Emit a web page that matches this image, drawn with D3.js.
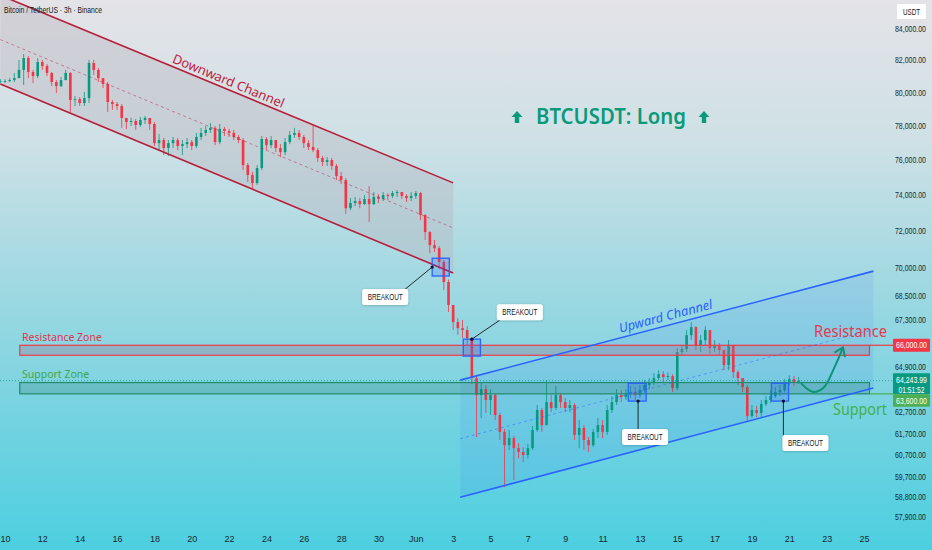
<!DOCTYPE html>
<html><head><meta charset="utf-8">
<script src="https://cdn.jsdelivr.net/npm/d3@7"></script>
<style>
html,body{margin:0;padding:0;background:#fff;}
svg{display:block;}
</style></head>
<body>
<svg id="chart" width="932" height="550"></svg>
<script>
// ---------- DATA ----------
const firstOpen = 80700;
const closes = [80730,80730,80790,80910,81420,82160,81290,81040,81910,81660,81230,80670,80420,80790,81230,79570,79620,79390,79690,81850,
81420,80910,80550,79450,79330,79210,78490,78250,78310,78070,78370,78490,78130,77000,77180,76710,77000,77180,76830,76940,
77060,76830,77360,77600,77780,77900,77060,77840,77720,77600,77360,77180,75720,75150,74690,75550,77240,76880,77180,76710,
76470,77060,77480,77600,77360,77000,76770,76590,76130,75900,76010,75670,75090,74860,73270,73560,73670,73500,73790,73500,
73900,73790,74010,73960,74120,74180,73960,73840,73960,74120,72890,71950,71240,71070,70330,69260,68060,67180,66870,66770,
66360,64370,63540,63830,63300,63540,62580,61780,61160,61490,61020,60840,60700,61020,61870,62820,62100,63200,62920,63540,
63200,62920,63060,61640,61970,61400,61160,61780,62100,61780,62820,63200,63540,63440,63590,63680,63540,63780,64030,64170,
64370,64560,64420,64470,63880,65660,65810,66510,66920,66010,66260,66770,65860,66010,65760,65010,66010,64660,64370,63930,
62530,62820,62680,63110,63300,63490,63680,63780,64120,64320,64170,64243.99];
const highs = [80850,80850,80910,81230,82040,82410,82290,81420,82160,82040,81790,81290,80790,80980,81420,81290,79820,79750,80060,82040,
82040,81540,80910,80670,79570,79450,79330,78490,78490,78430,78550,78610,78490,78250,77540,77300,77180,77360,77300,77180,
77300,77180,77600,77900,78010,78190,78010,78130,77960,77840,77780,77480,77300,75840,75330,75720,77420,77360,77420,77180,
76940,77300,77720,77900,77780,77480,77180,78070,76710,76240,76180,76130,75780,75330,74970,73840,73900,73840,74010,74520,
74180,74060,74180,74120,74240,74290,74180,74060,74180,74240,74180,72940,72000,71520,71180,70430,69400,68060,67380,67280,
66970,66410,64470,64120,64030,63830,63640,62680,61920,61870,61590,61260,61070,61210,62060,63060,62920,64270,63540,63980,
63640,63400,63300,63160,62340,62100,61540,61920,62440,62340,63060,63490,63830,63780,63830,63980,63930,64030,64270,64370,
64610,64760,64710,64660,64560,65860,66010,66770,67180,66970,66510,66970,66770,66260,66110,65760,66260,66010,64760,64370,
64030,63060,63010,63300,63490,63780,63930,64030,64320,64510,64470,64420];
const lows = [80610,80610,80670,80670,80910,80490,80910,80610,80910,81420,81040,80420,80000,80360,80790,78850,79210,79210,79210,79390,
81100,80670,80300,78850,78970,78970,77900,77840,78010,77780,77960,78130,77780,76830,76590,76300,76240,76710,76590,76300,
76710,76590,76710,77180,77420,77600,76880,76940,77420,77360,77180,77000,75440,74750,74400,74580,75440,76590,76710,76470,
76180,76300,76940,77300,77180,76710,76590,76470,75900,75670,75670,75440,74860,74630,72940,73160,73390,73270,73450,72500,
73450,73560,73670,73730,73840,73900,73790,73620,73670,73790,72610,71520,70800,70860,69950,68840,67700,66770,66520,66360,
66010,64080,61540,62440,62680,62580,62340,61400,59230,60930,59550,60550,60370,60550,60930,61780,61780,62100,62720,62820,
62920,62720,62720,61400,61020,60930,60840,61070,61490,61490,61640,62680,63060,63200,63300,63400,63300,63400,63680,63830,
64030,64270,64170,64270,63690,63780,65510,65660,66260,65760,65660,66010,65560,65660,65510,64760,64760,64370,64030,63690,
62240,62440,62480,62480,63010,63160,63400,63490,63680,64030,63980,64080];
const candleStart = Date.UTC(2024, 4, 9, 18);   // first candle time
const candleStepHours = 6;
const lastPrice = 64243.99;
const countdown = "01:51:52";

const priceTicks = [84000,82000,80000,78000,76000,74000,72000,70000,68500,67300,64900,62700,61700,60700,59700,58800,57900];
const dateTicks = [10,12,14,16,18,20,22,24,26,28,30].map(d => Date.UTC(2024,4,d))
  .concat([1,3,5,7,9,11,13,15,17,19,21,23,25].map(d => Date.UTC(2024,5,d)));

const resistanceZone = {from: Date.UTC(2024,4,10,19), to: Date.UTC(2024,5,25,7), top: 66000, bottom: 65500};
const supportZone = {from: Date.UTC(2024,4,10,19), to: Date.UTC(2024,5,25,7), top: 64150, bottom: 63600};

const downChannel = {t0: Date.UTC(2024,4,9,18), t1: Date.UTC(2024,5,3,0), upper: [86190, 74700], lower: [80550, 69740]};
const upChannel = {t0: Date.UTC(2024,5,3,9), t1: Date.UTC(2024,5,25,12), upper: [64270, 69840], lower: [58780, 63880]};

const breakouts = [
  {t0: Date.UTC(2024,5,1,21), t1: Date.UTC(2024,5,2,19), hi: 70530, lo: 69580, dot: [0, 0.5], label: [-47, 30]},
  {t0: Date.UTC(2024,5,3,13), t1: Date.UTC(2024,5,4,11), hi: 66310, lo: 65460, dot: [0.5, 0], label: [48, -27]},
  {t0: Date.UTC(2024,5,12,9), t1: Date.UTC(2024,5,13,8), hi: 64120, lo: 63250, dot: [0.55, 1], label: [7, 36]},
  {t0: Date.UTC(2024,5,20,1), t1: Date.UTC(2024,5,20,23), hi: 64120, lo: 63250, dot: [0.7, 1], label: [22, 42]}
];
const arrowPath = [
  [Date.UTC(2024,5,21,15), 64120], [Date.UTC(2024,5,22,6), 63700], [Date.UTC(2024,5,22,20), 63900],
  [Date.UTC(2024,5,23,10), 64900], [Date.UTC(2024,5,23,21), 65900]
];

// ---------- SETUP ----------
const svg = d3.select("#chart");
const W = 932, H = 550;
const plotRight = 893;
const x = d3.scaleUtc().domain([Date.UTC(2024,4,10), Date.UTC(2024,5,25)]).range([5, 864]);
const y = d3.scaleLog().domain([57900, 84000]).range([517, 29]);
const narrow = '"Liberation Sans",Arial,sans-serif';
const sans = '"Noto Sans","Open Sans",sans-serif';

// condense a text element horizontally to a target width using a transform (anchor preserved)
function condense(sel, width){
  sel.each(function(){
    const el = d3.select(this);
    const w = this.getComputedTextLength();
    if (w <= width) return;
    const s = width / w;
    const tx = +el.attr("x") || 0, ty = +el.attr("y") || 0;
    const prev = el.attr("transform") || "";
    el.attr("x", 0).attr("y", 0).attr("transform", `${prev} translate(${tx},${ty}) scale(${s},1)`);
  });
}

const defs = svg.append("defs");
const g1 = defs.append("linearGradient").attr("id","bg").attr("x1",0).attr("y1",0).attr("x2",0).attr("y2",1);
[[0,"#e4e3e7"],[0.25,"#cfe1e6"],[0.5,"#a3d9e2"],[0.75,"#76d3e0"],[1,"#4ccfe0"]].forEach(s =>
  g1.append("stop").attr("offset", s[0]).attr("stop-color", s[1]));
const sh = defs.append("filter").attr("id","shadow").attr("x","-20%").attr("y","-30%").attr("width","140%").attr("height","160%");
sh.append("feDropShadow").attr("dx",0).attr("dy",0.5).attr("stdDeviation",0.8).attr("flood-color","#000").attr("flood-opacity",0.25);

svg.append("rect").attr("width",W).attr("height",H).attr("fill","url(#bg)");

// ---------- CHANNEL FILLS ----------
function poly(ch){
  return [[x(ch.t0), y(ch.upper[0])],[x(ch.t1), y(ch.upper[1])],[x(ch.t1), y(ch.lower[1])],[x(ch.t0), y(ch.lower[0])]];
}
svg.append("polygon").attr("points", poly(downChannel).join(" ")).attr("fill","rgba(185,180,188,0.38)");
svg.append("polygon").attr("points", poly(upChannel).join(" ")).attr("fill","rgba(41,98,255,0.09)");

// ---------- CANDLES ----------
const candles = closes.map((c,i) => {
  const o = i === 0 ? firstOpen : closes[i-1];
  return {t: candleStart + i*candleStepHours*3600e3, o, c, h: Math.max(highs[i], o, c), l: Math.min(lows[i], o, c)};
});
const bw = 2.6;
const cg = svg.append("g");
cg.selectAll("line").data(candles).join("line")
  .attr("x1", d => x(d.t)).attr("x2", d => x(d.t))
  .attr("y1", d => y(d.h)).attr("y2", d => y(d.l))
  .attr("stroke", d => d.c >= d.o ? "#089981" : "#f23645").attr("stroke-width", 0.8);
cg.selectAll("rect").data(candles).join("rect")
  .attr("x", d => x(d.t) - bw/2).attr("width", bw)
  .attr("y", d => y(Math.max(d.o,d.c)))
  .attr("height", d => Math.max(0.8, Math.abs(y(d.o) - y(d.c))))
  .attr("fill", d => d.c >= d.o ? "#089981" : "#f23645");

// ---------- CURRENT PRICE LINE ----------
svg.append("line").attr("x1",0).attr("x2",plotRight).attr("y1",y(lastPrice)).attr("y2",y(lastPrice))
  .attr("stroke","#089981").attr("stroke-dasharray","1,2").attr("stroke-width",1).attr("opacity",0.7);

// ---------- ZONES ----------
function zone(z, fill, stroke){
  svg.append("rect").attr("x", x(z.from)).attr("y", y(z.top)).attr("width", x(z.to)-x(z.from))
    .attr("height", y(z.bottom)-y(z.top)).attr("fill", fill).attr("stroke", stroke).attr("stroke-width",1.2);
}
zone(resistanceZone, "rgba(150,120,150,0.35)", "#f23645");
zone(supportZone, "rgba(30,110,95,0.22)", "#238a6c");
svg.append("line").attr("x1", x(resistanceZone.to)).attr("x2", plotRight).attr("y1", y(66000)).attr("y2", y(66000))
  .attr("stroke","#f23645").attr("stroke-width",1.2);
svg.append("line").attr("x1", x(supportZone.to)).attr("x2", plotRight).attr("y1", y(63600)).attr("y2", y(63600))
  .attr("stroke","#4caf50").attr("stroke-width",1.2);

// ---------- CHANNEL LINES ----------
function chLines(ch, color){
  const mid = [Math.sqrt(ch.upper[0]*ch.lower[0]), Math.sqrt(ch.upper[1]*ch.lower[1])];
  [[ch.upper,null],[ch.lower,null],[mid,"3,3"]].forEach(([p,dash]) => {
    svg.append("line").attr("x1", x(ch.t0)).attr("x2", x(ch.t1)).attr("y1", y(p[0])).attr("y2", y(p[1]))
      .attr("stroke", color).attr("stroke-width", dash ? 0.8 : 1.6)
      .attr("stroke-dasharray", dash).attr("opacity", dash ? 0.6 : 1);
  });
}
chLines(downChannel, "#b71d3b");
chLines(upChannel, "#2962ff");

// ---------- BREAKOUTS ----------
breakouts.forEach(b => {
  const x0 = x(b.t0), x1 = x(b.t1), y0 = y(b.hi), y1 = y(b.lo);
  svg.append("rect").attr("x",x0).attr("y",y0).attr("width",x1-x0).attr("height",y1-y0)
    .attr("fill","rgba(41,98,255,0.22)").attr("stroke","#2962ff").attr("stroke-width",1.3);
  const dx = x0 + (x1-x0)*b.dot[0], dy = y0 + (y1-y0)*b.dot[1];
  const lx = dx + b.label[0], ly = dy + b.label[1];
  const lw = 46, lh = 16;
  const ex = Math.max(lx - lw/2, Math.min(dx, lx + lw/2));
  const ey = dy < ly ? ly - lh/2 : ly + lh/2;
  const ex2 = b.label[0] < -20 ? lx + lw/2 - 3 : (b.label[0] > 30 ? lx - lw/2 + 3 : ex);
  svg.append("line").attr("x1",dx).attr("y1",dy).attr("x2",ex2).attr("y2",ey)
    .attr("stroke","#1f2a30").attr("stroke-width",1);
  svg.append("circle").attr("cx",dx).attr("cy",dy).attr("r",1.6).attr("fill","#111");
  svg.append("rect").attr("x",lx-lw/2).attr("y",ly-lh/2).attr("width",lw).attr("height",lh).attr("rx",2.5)
    .attr("fill","#fff").attr("filter","url(#shadow)");
  svg.append("text").attr("x",lx).attr("y",ly+3).attr("text-anchor","middle")
    .attr("font-family",narrow).attr("font-size",8.5).attr("fill","#131722").text("BREAKOUT")
    .call(condense, 35);
});

// ---------- ARROW ----------
const ap = arrowPath.map(p => [x(p[0]), y(p[1])]);
svg.append("path").attr("d", d3.line().curve(d3.curveCatmullRom)(ap))
  .attr("fill","none").attr("stroke","#0b9477").attr("stroke-width",2);
{
  const [tx,ty] = ap[ap.length-1], [px,py] = ap[ap.length-2];
  const ang = Math.atan2(ty-py, tx-px), L = 10, a = 0.6;
  const w1 = [tx - L*Math.cos(ang - a), ty - L*Math.sin(ang - a)];
  const w2 = [tx - L*Math.cos(ang + a), ty - L*Math.sin(ang + a)];
  svg.append("path").attr("d", `M${w1}L${tx},${ty}L${w2}`).attr("fill","none")
    .attr("stroke","#0b9477").attr("stroke-width",2).attr("stroke-linejoin","round");
}

// ---------- TEXT ANNOTATIONS ----------
svg.append("text").attr("x",4).attr("y",13).attr("font-family",narrow).attr("font-size",9).attr("fill","#131722")
  .text("Bitcoin / TetherUS · 3h · Binance").call(condense, 98);

function slopedText(txt, ch, frac, offset, color, size, italic){
  const xa = x(ch.t0) + (x(ch.t1)-x(ch.t0))*frac;
  const ang = Math.atan2(y(ch.upper[1]) - y(ch.upper[0]), x(ch.t1) - x(ch.t0)) * 180/Math.PI;
  const ya = y(ch.upper[0]) + (y(ch.upper[1]) - y(ch.upper[0]))*frac + offset;
  svg.append("text").attr("transform", `translate(${xa},${ya}) rotate(${ang})`).attr("text-anchor","middle")
    .attr("font-family",sans).attr("font-size",size).attr("font-style", italic ? "italic" : null)
    .attr("fill",color).text(txt);
}
slopedText("Downward Channel", downChannel, 0.5, -4, "#c0213d", 13, false);
slopedText("Upward Channel", upChannel, 0.5, -5, "#2962ff", 13, true);

svg.append("text").attr("x",22).attr("y",y(resistanceZone.top)-4).attr("font-family",sans).attr("font-size",10.5)
  .attr("fill","#e0334d").text("Resistance Zone");
svg.append("text").attr("x",22).attr("y",y(supportZone.top)-5).attr("font-family",sans).attr("font-size",10.5)
  .attr("fill","#3fa84a").text("Support Zone");
svg.append("text").attr("x",887).attr("y",y(66000)-8).attr("text-anchor","end").attr("font-family",sans).attr("font-size",17)
  .attr("fill","#e23b52").text("Resistance").call(condense, 73);
svg.append("text").attr("x",887).attr("y",y(63600)+21).attr("text-anchor","end").attr("font-family",sans).attr("font-size",17)
  .attr("fill","#43b04a").text("Support").call(condense, 54);

// Title with arrows
const titleY = 124;
svg.append("text").attr("x",611).attr("y",titleY).attr("text-anchor","middle").attr("font-family",sans)
  .attr("font-size",21).attr("font-weight",600).attr("fill","#0a9a7a").text("BTCUSDT: Long").call(condense, 150);
function upArrow(cx, cy){
  svg.append("path").attr("d", `M${cx},${cy-6}L${cx+5.5},${cy}L${cx+2.2},${cy}L${cx+2.2},${cy+6}L${cx-2.2},${cy+6}L${cx-2.2},${cy}L${cx-5.5},${cy}Z`)
    .attr("fill","#0a9a7a");
}
upArrow(517, 117); upArrow(704, 117);

// ---------- AXES ----------
const xAxis = d3.axisBottom(x).tickValues(dateTicks)
  .tickFormat(d => { const dt = new Date(d); return dt.getUTCDate() === 1 ? "Jun" : dt.getUTCDate(); })
  .tickSize(0).tickPadding(9);
const gx = svg.append("g").attr("transform","translate(0,527)").call(xAxis);
gx.select(".domain").remove();
gx.selectAll("text").attr("font-family",narrow).attr("font-size",9).attr("fill","#1b2830");

const yAxis = d3.axisRight(y).tickValues(priceTicks).tickFormat(d3.format(",.2f")).tickSize(0).tickPadding(2);
const gy = svg.append("g").attr("transform",`translate(${plotRight},0)`).call(yAxis);
gy.select(".domain").remove();
gy.selectAll("text").attr("font-family",narrow).attr("font-size",9).attr("fill","#1b2830")
  .attr("dy", null).attr("dominant-baseline","middle")
  .each(function(){
    const w = this.getComputedTextLength(), s = 31 / w;
    d3.select(this).attr("x", 0).attr("transform", `translate(2,0) scale(${s},1)`);
  });

// USDT box
svg.append("rect").attr("x",897).attr("y",4).attr("width",29).attr("height",15).attr("fill","#fff").attr("rx",1.5);
svg.append("text").attr("x",911.5).attr("y",14.5).attr("text-anchor","middle").attr("font-family",narrow)
  .attr("font-size",8.5).attr("fill","#131722").text("USDT").call(condense, 17);

// price labels on axis
function axisLabel(yc, h, fill, lines){
  svg.append("rect").attr("x",plotRight).attr("y",yc).attr("width",37).attr("height",h).attr("fill",fill).attr("rx",1);
  lines.forEach((t,i) => svg.append("text").attr("x",plotRight+18.5).attr("y",yc+9.5+i*10).attr("text-anchor","middle")
    .attr("font-family",narrow).attr("font-size",9).attr("fill","#fff").text(t)
    .call(condense, t.length > 8 ? 31 : 26));
}
axisLabel(y(66000)-6.5, 13, "#f23645", [d3.format(",.2f")(66000)]);
axisLabel(y(lastPrice)-7.5, 21, "#089981", [d3.format(",.2f")(lastPrice), countdown]);
axisLabel(y(lastPrice)+13.5, 12.5, "#4caf50", [d3.format(",.2f")(63600)]);
</script>
</body></html>
